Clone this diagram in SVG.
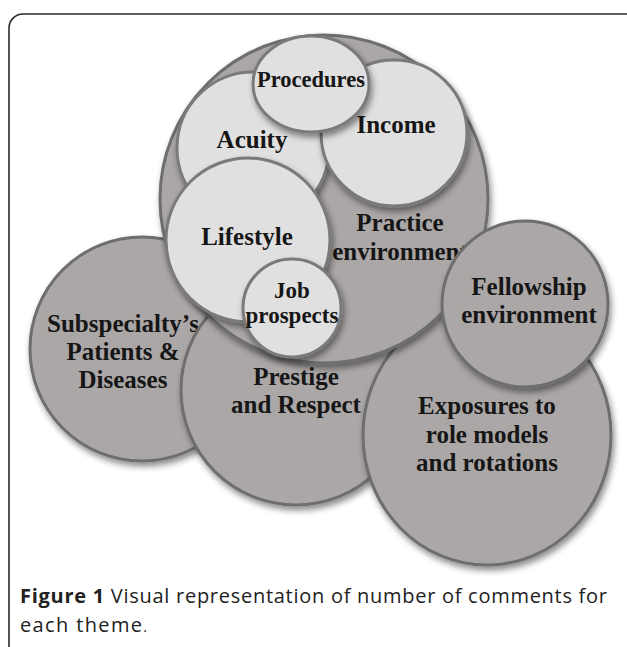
<svg xmlns="http://www.w3.org/2000/svg" width="627" height="647" viewBox="0 0 627 647">
<style>
.dk{fill:#aba7a6;stroke:#6e6e6e;stroke-width:3;filter:url(#sh)}
.lt{fill:#e0e0e0;stroke:#7a7a7a;stroke-width:3;filter:url(#sh)}
.lb{font-family:"Liberation Serif","Times New Roman",serif;font-weight:bold;font-size:25px;fill:#161616;text-anchor:middle}
.cap{font-family:"Open Sans","Noto Sans",sans-serif;font-size:20px;fill:#222}
</style>
<defs>
<filter id="sh" x="-20%" y="-20%" width="140%" height="140%">
<feDropShadow dx="2" dy="4" stdDeviation="3" flood-color="#000" flood-opacity="0.45"/>
</filter>
</defs>
<rect x="0" y="0" width="627" height="647" fill="#fff"/>
<rect x="9" y="14" width="660" height="700" rx="14" ry="14" fill="none" stroke="#2a2a2a" stroke-width="1.6"/>
<g id="subspecialty">
<circle class="dk" cx="142" cy="349" r="112"/>
<text class="lb" x="123" y="332">Subspecialty’s</text>
<text class="lb" x="123" y="360">Patients &amp;</text>
<text class="lb" x="123" y="388">Diseases</text>
</g>
<g id="prestige">
<circle class="dk" cx="296" cy="390" r="115"/>
<text class="lb" x="296" y="385">Prestige</text>
<text class="lb" x="296" y="413">and Respect</text>
</g>
<g id="exposures">
<ellipse class="dk" cx="487" cy="435" rx="124" ry="130"/>
<text class="lb" x="487" y="414">Exposures to</text>
<text class="lb" x="487" y="443">role models</text>
<text class="lb" x="487" y="471">and rotations</text>
</g>
<g id="practice">
<circle class="dk" cx="324" cy="199" r="164"/>
<text class="lb" x="400" y="231">Practice</text>
<text class="lb" x="400" y="260">environment</text>
</g>
<g id="acuity">
<circle class="lt" cx="253" cy="148" r="76"/>
<text class="lb" x="252" y="148">Acuity</text>
</g>
<g id="income">
<circle class="lt" cx="394" cy="133" r="73"/>
<text class="lb" x="396" y="133">Income</text>
</g>
<g id="procedures">
<ellipse class="lt" cx="311" cy="84" rx="58" ry="48"/>
<text class="lb" x="311" y="87" style="font-size:22.5px">Procedures</text>
</g>
<g id="lifestyle">
<circle class="lt" cx="248" cy="240" r="82"/>
<text class="lb" x="247" y="245">Lifestyle</text>
</g>
<g id="job">
<circle class="lt" cx="292" cy="308" r="49"/>
<text class="lb" x="292" y="298" style="font-size:23px">Job</text>
<text class="lb" x="292" y="323" style="font-size:23px">prospects</text>
</g>
<g id="fellowship">
<circle class="dk" cx="525" cy="304" r="83"/>
<text class="lb" x="529" y="295">Fellowship</text>
<text class="lb" x="529" y="323">environment</text>
</g>
<g id="connectors"></g>
<text class="cap" x="20" y="603" textLength="587" lengthAdjust="spacing"><tspan font-weight="bold">Figure 1</tspan> Visual representation of number of comments for</text>
<text class="cap" x="20" y="632"><tspan textLength="122" lengthAdjust="spacing">each theme</tspan><tspan font-size="14">.</tspan></text>
</svg>
